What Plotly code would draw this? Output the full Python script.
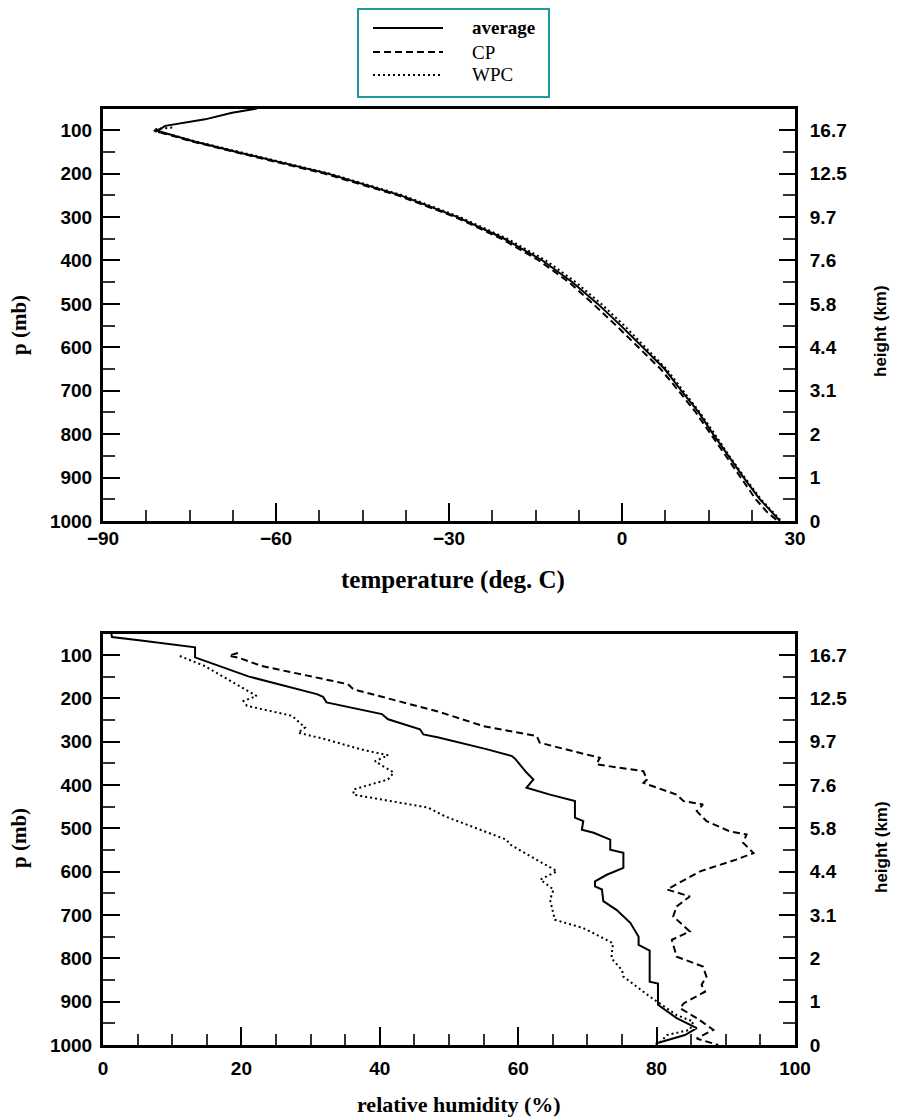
import plotly.graph_objects as go

# ---------------- data ----------------
# Temperature profiles (pressure in mb, temperature in deg C)
avg_T_p = [50, 60, 75, 90, 101, 110, 125, 150, 175, 200, 250, 300, 350, 400, 450, 500,
           550, 600, 650, 700, 750, 800, 850, 900, 950, 1000]
avg_T = [-63.3, -67.6, -72.3, -79.2, -80.6, -78.4, -74.5, -66.8, -58.7, -51.0, -38.4, -28.5,
         -20.4, -13.8, -8.6, -4.2, -0.2, 3.6, 7.4, 10.3, 13.3, 15.8, 18.4, 21.1, 23.9, 27.4]

cp_T_p = [97, 103, 110, 125, 150, 175, 200, 250, 300, 350, 400, 450, 500, 550, 600, 650,
          700, 750, 800, 850, 900, 950, 980, 1000]
cp_T = [-80.0, -80.9, -78.7, -74.8, -67.2, -59.2, -51.6, -38.9, -28.9, -20.9, -14.4, -9.2,
        -5.0, -1.0, 2.8, 6.7, 9.8, 12.8, 15.4, 18.0, 20.7, 23.2, 25.2, 27.0]

wpc_T_p = [94, 98, 103, 110, 125, 150, 175, 200, 250, 300, 350, 400, 450, 500, 550, 600,
           650, 700, 750, 800, 850, 900, 950, 1000]
wpc_T = [-78.0, -81.3, -80.9, -78.3, -74.2, -66.5, -58.4, -50.7, -38.0, -28.1, -19.9, -13.2,
         -8.0, -3.6, 0.4, 4.1, 7.7, 10.6, 13.5, 16.1, 18.6, 21.3, 24.1, 27.6]

# Relative humidity profiles (pressure in mb, RH in %)
avg_rh_p = [50, 58, 66, 82, 105, 113, 149, 190, 196, 209, 236, 248, 271, 283, 290, 317,
            333, 340, 348, 371, 387, 406, 422, 437, 475, 483, 503, 510, 526, 549, 556, 591,
            607, 622, 634, 641, 668, 688, 718, 750, 769, 782, 854, 858, 907, 938, 961, 977,
            996, 1000]
avg_rh = [1.2, 1.3, 5.5, 13.3, 13.3, 14.7, 21.0, 30.9, 31.8, 32.3, 40.3, 41.2, 45.8, 46.3,
          48.5, 55.4, 59.1, 59.6, 60.0, 61.2, 62.2, 61.2, 64.6, 68.2, 68.2, 69.4, 69.2, 70.9,
          73.3, 73.3, 75.2, 75.2, 72.8, 71.1, 71.1, 72.1, 72.3, 74.2, 76.2, 77.4, 77.4, 79.0,
          79.0, 80.2, 80.2, 82.9, 85.8, 84.1, 80.0, 80.0]

cp_rh_p = [95, 101, 106, 125, 167, 179, 230, 264, 287, 302, 318, 333, 337, 352, 368, 387,
           395, 422, 437, 445, 460, 483, 507, 514, 533, 557, 572, 599, 641, 657, 680, 703,
           738, 757, 796, 819, 842, 861, 877, 904, 915, 940, 965, 985, 1000]
cp_rh = [19.5, 18.2, 19.6, 22.9, 35.4, 36.2, 48.4, 55.0, 62.7, 63.1, 67.0, 70.9, 71.8, 71.3,
         78.1, 78.6, 78.1, 82.9, 83.9, 86.7, 85.8, 87.2, 90.6, 93.0, 92.5, 94.0, 91.5, 86.3,
         81.5, 84.8, 82.9, 82.4, 84.8, 82.2, 82.9, 86.7, 87.2, 86.5, 87.0, 83.9, 83.4, 86.0,
         88.2, 85.8, 88.9]

wpc_rh_p = [102, 125, 183, 194, 206, 217, 240, 267, 279, 294, 318, 331, 345, 371, 387, 395,
            410, 422, 432, 452, 472, 526, 537, 599, 618, 641, 665, 711, 730, 765, 792, 800,
            827, 842, 888, 931, 946, 965, 977, 1000]
wpc_rh = [11.1, 14.7, 21.0, 22.2, 20.3, 20.8, 27.3, 29.2, 28.2, 32.1, 37.4, 41.2, 39.3, 42.0,
          41.2, 39.5, 36.2, 36.2, 40.0, 47.0, 49.4, 58.3, 58.8, 65.6, 63.2, 65.1, 64.6, 65.3,
          69.4, 73.7, 73.5, 73.5, 75.0, 75.2, 79.0, 82.9, 85.3, 84.8, 81.5, 80.2]

p_ticks = [100, 200, 300, 400, 500, 600, 700, 800, 900, 1000]
p_minor = [150, 250, 350, 450, 550, 650, 750, 850, 950]
height_labels = ["16.7", "12.5", "9.7", "7.6", "5.8", "4.4", "3.1", "2", "1", "0"]
T_ticks = [-90, -60, -30, 0, 30]
RH_ticks = [0, 20, 40, 60, 80, 100]

series_names = ["average", "CP", "WPC"]

# ---------------- styles ----------------
OFF = 8                      # default page margin around the figure div
W, H = 900 - OFF, 1119 - OFF
SANS = "Liberation Sans"
SERIF = "Liberation Serif"
DASHES = ["solid", "7px,4px", "2px,3px"]
LW = 2


def px_x(v):
    return (v - OFF) / W


def px_y(v):
    return 1 - (v - OFF) / H


fig = go.Figure()

temp_series = [(avg_T, avg_T_p), (cp_T, cp_T_p), (wpc_T, wpc_T_p)]
rh_series = [(avg_rh, avg_rh_p), (cp_rh, cp_rh_p), (wpc_rh, wpc_rh_p)]

for name, dash, (xv, pv) in zip(series_names, DASHES, temp_series):
    fig.add_trace(go.Scatter(x=xv, y=pv, mode="lines", name=name, xaxis="x", yaxis="y",
                             line=dict(color="black", width=LW, dash=dash), showlegend=False,
                             hoverinfo="skip"))
for name, dash, (xv, pv) in zip(series_names, DASHES, rh_series):
    fig.add_trace(go.Scatter(x=xv, y=pv, mode="lines", name=name, xaxis="x2", yaxis="y3",
                             line=dict(color="black", width=LW, dash=dash), showlegend=False,
                             hoverinfo="skip"))

# invisible helper traces so the right-hand (height) axes are drawn
for xa, ya, xv, pv in (("x", "y2", avg_T, avg_T_p), ("x2", "y4", avg_rh, avg_rh_p)):
    fig.add_trace(go.Scatter(x=xv, y=pv, mode="lines", xaxis=xa, yaxis=ya, opacity=0,
                             line=dict(width=0), showlegend=False, hoverinfo="skip"))

tickfont = dict(family=SANS, size=19, color="black", weight="bold")
xdom = [px_x(103), px_x(795)]
top_dom = [px_y(521), px_y(108.5)]
bot_dom = [px_y(1045), px_y(633.5)]


def yaxis_left(dom, anchor):
    return dict(domain=dom, anchor=anchor, range=[1000, 50], tickmode="array",
                tickvals=p_ticks, ticks="inside", ticklen=17, tickwidth=2, tickcolor="black",
                showline=True, linewidth=3, linecolor="black", showgrid=False, zeroline=False,
                tickfont=tickfont, ticklabelstandoff=4, automargin=False,
                minor=dict(tickvals=p_minor, ticks="inside", ticklen=12, tickwidth=1.5,
                           tickcolor="#333", showgrid=False))


def yaxis_right(dom, anchor, overlay):
    return dict(domain=dom, anchor=anchor, overlaying=overlay, side="right", range=[1000, 50],
                tickmode="array", tickvals=p_ticks, ticktext=height_labels, ticks="inside",
                ticklen=16, tickwidth=2, tickcolor="black", showline=True, linewidth=3,
                linecolor="black", showgrid=False, zeroline=False, tickfont=tickfont,
                ticklabelstandoff=8, automargin=False,
                minor=dict(tickvals=p_minor, ticks="inside", ticklen=12, tickwidth=1.5,
                           tickcolor="#333", showgrid=False))


def xaxis(dom_anchor, rng, tv, minor_dtick, standoff):
    return dict(domain=xdom, anchor=dom_anchor, range=rng, tickmode="array", tickvals=tv,
                ticks="inside", ticklen=18, tickwidth=2, tickcolor="black", showline=True,
                linewidth=3, linecolor="black", mirror=True, showgrid=False, zeroline=False,
                tickfont=tickfont, ticklabelstandoff=standoff, automargin=False,
                minor=dict(dtick=minor_dtick, tick0=rng[0], ticks="inside", ticklen=11,
                           tickwidth=1.5, tickcolor="#333", showgrid=False))


fig.update_layout(
    width=W, height=H,
    margin=dict(l=0, r=0, t=0, b=0, pad=0, autoexpand=False),
    paper_bgcolor="white", plot_bgcolor="white",
    showlegend=False,
    xaxis=xaxis("y", [-90, 30], T_ticks, 7.5, -2),
    yaxis=yaxis_left(top_dom, "x"),
    yaxis2=yaxis_right(top_dom, "x", "y"),
    xaxis2=xaxis("y3", [0, 100], RH_ticks, 5, 4),
    yaxis3=yaxis_left(bot_dom, "x2"),
    yaxis4=yaxis_right(bot_dom, "x2", "y3"),
)

# axis titles as annotations
ann = []


def add_text(text, x, y, font, angle=0, xanchor="center"):
    ann.append(dict(text=text, x=px_x(x), y=px_y(y), xref="paper", yref="paper",
                    xanchor=xanchor, yanchor="middle", showarrow=False, textangle=angle,
                    font=font))


add_text("temperature (deg. C)", 453, 580,
         dict(family=SERIF, size=25, color="black", weight="bold"))
add_text("relative humidity (%)", 459, 1104,
         dict(family=SERIF, size=22, color="black", weight="bold"))
for yc in (325, 838):
    add_text("p (mb)", 19, yc, dict(family=SERIF, size=21, color="black", weight="bold"), -90)
for yc in (331, 847):
    add_text("height (km)", 881, yc, dict(family=SANS, size=17, color="black", weight="bold"),
             -90)

# legend box drawn manually
shapes = [dict(type="rect", xref="paper", yref="paper", x0=px_x(358), x1=px_x(549),
               y0=px_y(97), y1=px_y(9), line=dict(color="#1f9a9c", width=2),
               fillcolor="white")]
leg_y = [28, 52, 75]
for name, dash, ly in zip(series_names, DASHES, leg_y):
    shapes.append(dict(type="line", xref="paper", yref="paper", x0=px_x(373), x1=px_x(443),
                       y0=px_y(ly), y1=px_y(ly), line=dict(color="black", width=LW, dash=dash)))
    add_text(name, 470, ly, dict(family=SERIF, size=19, color="black",
                                 weight="bold" if name == "average" else "normal"),
             xanchor="left")

fig.update_layout(annotations=ann, shapes=shapes)

fig.write_html("out.html")
